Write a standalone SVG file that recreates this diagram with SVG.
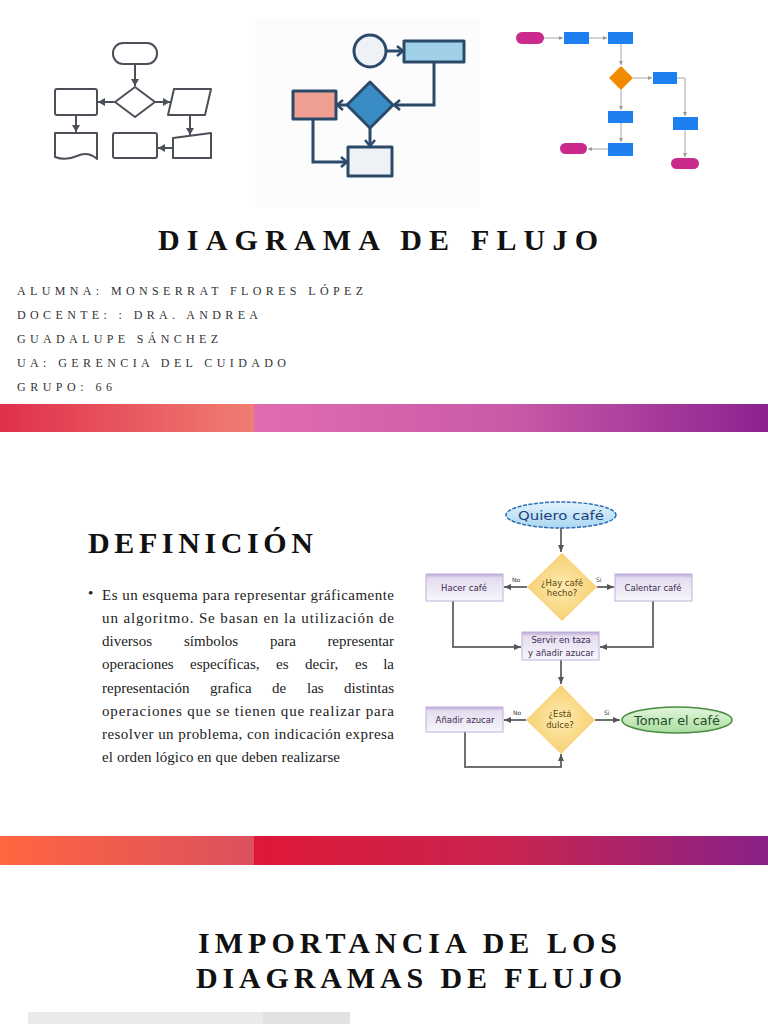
<svg xmlns="http://www.w3.org/2000/svg" width="768" height="1024" viewBox="0 0 768 1024">
<defs>
<style>
.t1{font-family:"Liberation Serif",serif;font-weight:bold;fill:#111;font-size:30px}
.au{font-family:"Liberation Serif",serif;font-size:12px;fill:#333}
.body{font-family:"Liberation Serif",serif;font-size:15px;fill:#222}
.i1{fill:#fff;stroke:#4b5058;stroke-width:2;stroke-linejoin:round}
.i1c{fill:none;stroke:#4b5058;stroke-width:2}
.i2{stroke:#2b4a6a;stroke-width:3;stroke-linejoin:round}
.i2c{fill:none;stroke:#2b4a6a;stroke-width:3}
.i3b{fill:#1e80f0}
.i3p{fill:#c92a8c}
.i3c{fill:none;stroke:#a8a8a8;stroke-width:1}
.fc{fill:none;stroke:#707070;stroke-width:2}
.box{fill:url(#lav);stroke:#c0b0d8;stroke-width:1}
.dia{fill:url(#yel)}
.bt{font-family:"DejaVu Sans",sans-serif;font-size:8.5px;fill:#3a2a50;text-anchor:middle}
.dt{font-family:"DejaVu Sans",sans-serif;font-size:8.5px;fill:#5a4410;text-anchor:middle}
.lbl{font-family:"DejaVu Sans",sans-serif;font-size:6px;fill:#333}
</style>
<linearGradient id="b1l" x1="0" y1="0" x2="1" y2="0"><stop offset="0" stop-color="#e0304c"/><stop offset="1" stop-color="#f07e72"/></linearGradient>
<linearGradient id="b1r" x1="0" y1="0" x2="1" y2="0"><stop offset="0" stop-color="#e26cb0"/><stop offset="0.5" stop-color="#c85aa8"/><stop offset="1" stop-color="#8c2290"/></linearGradient>
<linearGradient id="b2l" x1="0" y1="0" x2="1" y2="0"><stop offset="0" stop-color="#ff6640"/><stop offset="1" stop-color="#dc505e"/></linearGradient>
<linearGradient id="b2r" x1="0" y1="0" x2="1" y2="0"><stop offset="0" stop-color="#de1838"/><stop offset="0.5" stop-color="#c82450"/><stop offset="1" stop-color="#8a2088"/></linearGradient>
<linearGradient id="lav" x1="0" y1="0" x2="0" y2="1"><stop offset="0" stop-color="#b9a6d6"/><stop offset="0.15" stop-color="#e4dcef"/><stop offset="1" stop-color="#f8f6fb"/></linearGradient>
<radialGradient id="yel" cx="0.5" cy="0.5" r="0.6"><stop offset="0" stop-color="#fdebb0"/><stop offset="1" stop-color="#f6ca66"/></radialGradient>
<linearGradient id="grn" x1="0" y1="0" x2="0" y2="1"><stop offset="0" stop-color="#e2f6dc"/><stop offset="1" stop-color="#a9dc9e"/></linearGradient>
<linearGradient id="blu" x1="0" y1="0" x2="0" y2="1"><stop offset="0" stop-color="#e3f3fc"/><stop offset="1" stop-color="#a9d6f1"/></linearGradient>
<marker id="m1" markerUnits="userSpaceOnUse" markerWidth="10" markerHeight="10" refX="8" refY="5" orient="auto"><path d="M1,1 L8,5 L1,9 Z" fill="#4b5058"/></marker>
<marker id="m2" markerUnits="userSpaceOnUse" markerWidth="12" markerHeight="12" refX="9" refY="6" orient="auto"><path d="M3,1 L9,6 L3,11" fill="none" stroke="#2b4a6a" stroke-width="2.5"/></marker>
<marker id="m3" markerUnits="userSpaceOnUse" markerWidth="6" markerHeight="6" refX="5" refY="3" orient="auto"><path d="M1,1 L5,3 L1,5 Z" fill="#999"/></marker>
<marker id="m4" markerUnits="userSpaceOnUse" markerWidth="8" markerHeight="8" refX="7" refY="4" orient="auto"><path d="M0,1 L7,4 L0,7 Z" fill="#555"/></marker>
</defs>
<rect width="768" height="1024" fill="#fff"/>

<!-- Icon 1 -->
<g id="icon1">
<g id="i1-start"><rect class="i1" x="113" y="43" width="44" height="21" rx="10"/></g>
<g id="i1-decision"><polygon class="i1" points="135,87 155,102 135,117 115,102"/></g>
<g id="i1-process"><rect class="i1" x="55" y="89" width="42" height="26" rx="2"/></g>
<g id="i1-io"><polygon class="i1" points="174,89 211,89 205,115 168,115"/></g>
<g id="i1-doc"><path class="i1" d="M55,133 H97 V159 Q88,151 77,156 Q66,161 55,157 Z"/></g>
<g id="i1-box"><rect class="i1" x="113" y="133" width="44" height="25" rx="2"/></g>
<g id="i1-manual"><polygon class="i1" points="173,138 211,133 211,158 173,158"/></g>
<g id="i1-connectors">
<line class="i1c" x1="135" y1="64" x2="135" y2="86" marker-end="url(#m1)"/>
<line class="i1c" x1="115" y1="102" x2="98" y2="102" marker-end="url(#m1)"/>
<line class="i1c" x1="155" y1="102" x2="170" y2="102" marker-end="url(#m1)"/>
<line class="i1c" x1="76" y1="115" x2="76" y2="132" marker-end="url(#m1)"/>
<line class="i1c" x1="190" y1="115" x2="190" y2="135" marker-end="url(#m1)"/>
<line class="i1c" x1="173" y1="148" x2="158" y2="148" marker-end="url(#m1)"/>
</g>
</g>

<!-- Icon 2 -->
<g id="icon2">
<rect x="255" y="18" width="225" height="190" fill="#fcfcfc"/>
<g id="i2-circle"><circle class="i2" cx="370" cy="51" r="16" fill="#eef1f5"/></g>
<g id="i2-top"><rect class="i2" x="404" y="41" width="60" height="21" fill="#9fd0e8"/></g>
<g id="i2-diamond"><polygon class="i2" points="370,82 393,105 370,128 347,105" fill="#3a8cc4"/></g>
<g id="i2-red"><rect class="i2" x="293" y="91" width="43" height="28" fill="#f0a092"/></g>
<g id="i2-bottom"><rect class="i2" x="348" y="147" width="44" height="29" fill="#eef1f5"/></g>
<g id="i2-connectors">
<line class="i2c" x1="386" y1="51" x2="403" y2="51" marker-end="url(#m2)"/>
<polyline class="i2c" points="434,62 434,105 394,105" marker-end="url(#m2)"/>
<line class="i2c" x1="347" y1="105" x2="337" y2="105" marker-end="url(#m2)"/>
<line class="i2c" x1="370" y1="128" x2="370" y2="146" marker-end="url(#m2)"/>
<polyline class="i2c" points="313,119 313,162 347,162" marker-end="url(#m2)"/>
</g>
</g>

<!-- Icon 3 -->
<g id="icon3">
<g id="i3-connectors">
<line class="i3c" x1="543" y1="38" x2="563" y2="38" marker-end="url(#m3)"/>
<line class="i3c" x1="589" y1="38" x2="607" y2="38" marker-end="url(#m3)"/>
<line class="i3c" x1="621" y1="44" x2="621" y2="65" marker-end="url(#m3)"/>
<line class="i3c" x1="633" y1="78" x2="652" y2="78" marker-end="url(#m3)"/>
<polyline class="i3c" points="677,78 685,78 685,116" marker-end="url(#m3)"/>
<line class="i3c" x1="685" y1="130" x2="685" y2="157" marker-end="url(#m3)"/>
<line class="i3c" x1="621" y1="90" x2="621" y2="110" marker-end="url(#m3)"/>
<line class="i3c" x1="621" y1="123" x2="621" y2="142" marker-end="url(#m3)"/>
<line class="i3c" x1="608" y1="149" x2="588" y2="149" marker-end="url(#m3)"/>
</g>
<g id="i3-pill1"><rect class="i3p" x="516" y="32" width="28" height="12" rx="6"/></g>
<g id="i3-r1"><rect class="i3b" x="564" y="32" width="25" height="12"/></g>
<g id="i3-r2"><rect class="i3b" x="608" y="32" width="25" height="12"/></g>
<g id="i3-dia"><polygon points="621,66 633,78 621,90 609,78" fill="#f28a00"/></g>
<g id="i3-r3"><rect class="i3b" x="653" y="72" width="24" height="12"/></g>
<g id="i3-r4"><rect class="i3b" x="673" y="117" width="25" height="13"/></g>
<g id="i3-pill2"><rect class="i3p" x="671" y="158" width="28" height="11" rx="5.5"/></g>
<g id="i3-r5"><rect class="i3b" x="608" y="111" width="25" height="12"/></g>
<g id="i3-r6"><rect class="i3b" x="608" y="143" width="25" height="13"/></g>
<g id="i3-pill3"><rect class="i3p" x="560" y="143" width="27" height="11" rx="5.5"/></g>
</g>

<!-- Title block -->
<text class="t1" x="158" y="250" textLength="440" lengthAdjust="spacing">DIAGRAMA DE FLUJO</text>
<text class="au" x="17" y="295" textLength="346" lengthAdjust="spacing">ALUMNA: MONSERRAT FLORES LÓPEZ</text>
<text class="au" x="17" y="319" textLength="241" lengthAdjust="spacing">DOCENTE: : DRA. ANDREA</text>
<text class="au" x="17" y="343" textLength="201" lengthAdjust="spacing">GUADALUPE SÁNCHEZ</text>
<text class="au" x="17" y="367" textLength="269" lengthAdjust="spacing">UA: GERENCIA DEL CUIDADO</text>
<text class="au" x="17" y="391" textLength="95" lengthAdjust="spacing">GRUPO: 66</text>

<!-- Bar 1 -->
<rect x="0" y="404" width="254" height="28" fill="url(#b1l)"/>
<rect x="254" y="404" width="514" height="28" fill="url(#b1r)"/>

<!-- Definicion -->
<text class="t1" x="88" y="553" textLength="225" lengthAdjust="spacing">DEFINICIÓN</text>
<text class="body" x="88" y="598" font-size="12">•</text>
<text class="body" x="102" y="600" textLength="292" lengthAdjust="spacing">Es un esquema para representar gráficamente</text>
<text class="body" x="102" y="623" textLength="292" lengthAdjust="spacing">un algoritmo. Se basan en la utilización de</text>
<text class="body" y="646"><tspan x="102">diversos</tspan><tspan x="184">símbolos</tspan><tspan x="270">para</tspan><tspan x="394" text-anchor="end">representar</tspan></text>
<text class="body" y="669"><tspan x="102">operaciones</tspan><tspan x="190">específicas,</tspan><tspan x="276">es</tspan><tspan x="305">decir,</tspan><tspan x="355">es</tspan><tspan x="394" text-anchor="end">la</tspan></text>
<text class="body" y="693"><tspan x="102">representación</tspan><tspan x="210">grafica</tspan><tspan x="272">de</tspan><tspan x="307">las</tspan><tspan x="394" text-anchor="end">distintas</tspan></text>
<text class="body" x="102" y="716" textLength="292" lengthAdjust="spacing">operaciones que se tienen que realizar para</text>
<text class="body" x="102" y="739" textLength="292" lengthAdjust="spacing">resolver un problema, con indicación expresa</text>
<text class="body" x="102" y="762" textLength="238" lengthAdjust="spacing">el orden lógico en que deben realizarse</text>

<!-- Coffee flowchart -->
<g id="connectors">
<line class="fc" x1="561" y1="528" x2="561" y2="552" marker-end="url(#m4)"/>
<line class="fc" x1="527" y1="587" x2="504" y2="587" marker-end="url(#m4)"/>
<line class="fc" x1="597" y1="587" x2="614" y2="587" marker-end="url(#m4)"/>
<polyline class="fc" points="453,601 453,647 521,647" marker-end="url(#m4)"/>
<polyline class="fc" points="653,601 653,647 600,647" marker-end="url(#m4)"/>
<line class="fc" x1="561" y1="660" x2="561" y2="684" marker-end="url(#m4)"/>
<line class="fc" x1="526" y1="720" x2="504" y2="720" marker-end="url(#m4)"/>
<line class="fc" x1="595" y1="720" x2="620" y2="720" marker-end="url(#m4)"/>
<polyline class="fc" points="465,732 465,767 561,767 561,754" marker-end="url(#m4)"/>
<text class="lbl" x="512" y="582">No</text>
<text class="lbl" x="596" y="582">Si</text>
<text class="lbl" x="513" y="715">No</text>
<text class="lbl" x="604" y="715">Si</text>
</g>
<g id="n-quiero">
<ellipse cx="561" cy="515" rx="55" ry="13" fill="url(#blu)" stroke="#2c6fb5" stroke-width="1.5" stroke-dasharray="4 1.5"/>
<text x="561" y="520" font-family="DejaVu Sans, sans-serif" font-size="13" fill="#1d3f7d" text-anchor="middle" textLength="86" lengthAdjust="spacingAndGlyphs">Quiero café</text>
</g>
<g id="n-hay">
<polygon class="dia" points="562,553 597,587 562,621 527,587"/>
<text class="dt" x="562" y="586">¿Hay café</text>
<text class="dt" x="562" y="596">hecho?</text>
</g>
<g id="n-hacer">
<rect class="box" x="426" y="574" width="77" height="27"/>
<text class="bt" x="464" y="591">Hacer café</text>
</g>
<g id="n-calentar">
<rect class="box" x="615" y="574" width="77" height="27"/>
<text class="bt" x="653" y="591">Calentar café</text>
</g>
<g id="n-servir">
<rect class="box" x="522" y="632" width="77" height="28"/>
<text class="bt" x="561" y="643">Servir en taza</text>
<text class="bt" x="561" y="656">y añadir azucar</text>
</g>
<g id="n-dulce">
<polygon class="dia" points="561,685 595,720 561,754 526,720"/>
<text class="dt" x="560" y="717">¿Está</text>
<text class="dt" x="560" y="728">dulce?</text>
</g>
<g id="n-anadir">
<rect class="box" x="426" y="707" width="77" height="25"/>
<text class="bt" x="465" y="723">Añadir azucar</text>
</g>
<g id="n-tomar">
<ellipse cx="677" cy="720" rx="55" ry="13" fill="url(#grn)" stroke="#4a8a42" stroke-width="1.5"/>
<text x="677" y="725" font-family="DejaVu Sans, sans-serif" font-size="13" fill="#1e4a1e" text-anchor="middle" textLength="86" lengthAdjust="spacingAndGlyphs">Tomar el café</text>
</g>

<!-- Bar 2 -->
<rect x="0" y="836" width="254" height="29" fill="url(#b2l)"/>
<rect x="254" y="836" width="514" height="29" fill="url(#b2r)"/>

<!-- Importancia -->
<text class="t1" x="198" y="953" textLength="419" lengthAdjust="spacing">IMPORTANCIA DE LOS</text>
<text class="t1" x="196" y="988" textLength="426" lengthAdjust="spacing">DIAGRAMAS DE FLUJO</text>

<rect x="28" y="1012" width="322" height="12" fill="#ece9ea"/>
<rect x="263" y="1012" width="87" height="12" fill="#e4e1e2"/>
</svg>
